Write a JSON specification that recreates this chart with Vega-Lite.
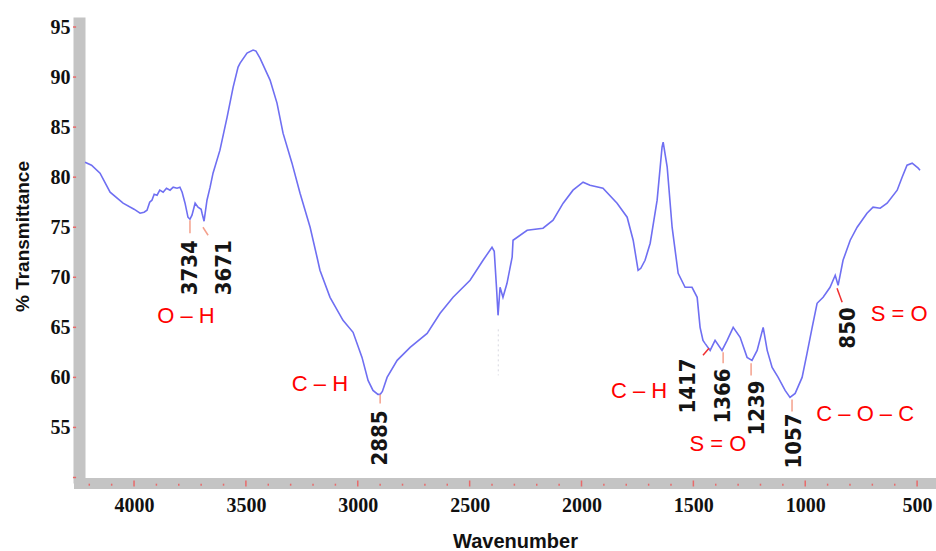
{
  "$schema": "https://vega.github.io/schema/vega-lite/v6.json",
  "width": 856,
  "height": 466,
  "autosize": {"type": "none"},
  "padding": {"left": 79, "top": 17, "right": 1, "bottom": 68},
  "background": "white",
  "config": {"view": {"stroke": null}},
  "datasets": {
    "spectrum": [
      {"wn": 4219, "T": 81.5}, {"wn": 4190, "T": 81.2}, {"wn": 4152, "T": 80.4}, {"wn": 4107, "T": 78.5},
      {"wn": 4049, "T": 77.4}, {"wn": 4000, "T": 76.8}, {"wn": 3973, "T": 76.4}, {"wn": 3955, "T": 76.5},
      {"wn": 3942, "T": 76.7}, {"wn": 3930, "T": 77.5}, {"wn": 3920, "T": 77.7}, {"wn": 3910, "T": 78.3},
      {"wn": 3897, "T": 78.2}, {"wn": 3885, "T": 78.7}, {"wn": 3870, "T": 78.5}, {"wn": 3855, "T": 78.9},
      {"wn": 3839, "T": 78.7}, {"wn": 3825, "T": 79.0}, {"wn": 3808, "T": 78.9}, {"wn": 3795, "T": 79.0},
      {"wn": 3785, "T": 78.5}, {"wn": 3772, "T": 77.4}, {"wn": 3759, "T": 76.0}, {"wn": 3750, "T": 75.8},
      {"wn": 3741, "T": 76.2}, {"wn": 3727, "T": 77.4}, {"wn": 3714, "T": 77.0}, {"wn": 3700, "T": 76.8},
      {"wn": 3696, "T": 76.4}, {"wn": 3687, "T": 75.6}, {"wn": 3674, "T": 77.7}, {"wn": 3660, "T": 79.0},
      {"wn": 3647, "T": 80.4}, {"wn": 3616, "T": 82.7}, {"wn": 3584, "T": 86.0}, {"wn": 3557, "T": 89.0},
      {"wn": 3535, "T": 91.0}, {"wn": 3526, "T": 91.4}, {"wn": 3495, "T": 92.4}, {"wn": 3468, "T": 92.7},
      {"wn": 3455, "T": 92.6}, {"wn": 3437, "T": 91.9}, {"wn": 3392, "T": 89.7}, {"wn": 3361, "T": 87.4},
      {"wn": 3334, "T": 84.4}, {"wn": 3294, "T": 81.4}, {"wn": 3258, "T": 78.4}, {"wn": 3213, "T": 75.0},
      {"wn": 3182, "T": 72.0}, {"wn": 3169, "T": 70.7}, {"wn": 3124, "T": 68.0}, {"wn": 3066, "T": 65.7},
      {"wn": 3021, "T": 64.5}, {"wn": 2981, "T": 62.0}, {"wn": 2954, "T": 59.7}, {"wn": 2932, "T": 58.7},
      {"wn": 2910, "T": 58.3}, {"wn": 2900, "T": 58.3}, {"wn": 2890, "T": 58.6}, {"wn": 2869, "T": 60.0},
      {"wn": 2824, "T": 61.7}, {"wn": 2766, "T": 63.0}, {"wn": 2690, "T": 64.4}, {"wn": 2632, "T": 66.4},
      {"wn": 2574, "T": 68.0}, {"wn": 2498, "T": 69.7}, {"wn": 2440, "T": 71.7}, {"wn": 2400, "T": 73.0},
      {"wn": 2390, "T": 72.6}, {"wn": 2380, "T": 69.0}, {"wn": 2373, "T": 66.2}, {"wn": 2364, "T": 69.0},
      {"wn": 2351, "T": 68.0}, {"wn": 2333, "T": 69.4}, {"wn": 2310, "T": 72.0}, {"wn": 2306, "T": 73.7},
      {"wn": 2243, "T": 74.7}, {"wn": 2172, "T": 74.9}, {"wn": 2127, "T": 75.7}, {"wn": 2082, "T": 77.4},
      {"wn": 2038, "T": 78.7}, {"wn": 1993, "T": 79.5}, {"wn": 1962, "T": 79.2}, {"wn": 1904, "T": 78.9},
      {"wn": 1841, "T": 77.4}, {"wn": 1796, "T": 76.0}, {"wn": 1769, "T": 73.7}, {"wn": 1747, "T": 70.7},
      {"wn": 1735, "T": 70.9}, {"wn": 1716, "T": 71.7}, {"wn": 1693, "T": 73.4}, {"wn": 1662, "T": 77.7},
      {"wn": 1640, "T": 83.0}, {"wn": 1635, "T": 83.5}, {"wn": 1617, "T": 81.0}, {"wn": 1595, "T": 75.0},
      {"wn": 1568, "T": 70.4}, {"wn": 1537, "T": 69.0}, {"wn": 1506, "T": 69.0}, {"wn": 1483, "T": 68.0},
      {"wn": 1470, "T": 65.0}, {"wn": 1457, "T": 63.7}, {"wn": 1448, "T": 63.4}, {"wn": 1425, "T": 62.7},
      {"wn": 1403, "T": 63.7}, {"wn": 1372, "T": 62.7}, {"wn": 1349, "T": 63.7}, {"wn": 1322, "T": 65.0},
      {"wn": 1291, "T": 64.0}, {"wn": 1260, "T": 62.0}, {"wn": 1238, "T": 61.7}, {"wn": 1215, "T": 62.7},
      {"wn": 1188, "T": 65.0}, {"wn": 1170, "T": 62.7}, {"wn": 1148, "T": 61.0}, {"wn": 1121, "T": 60.0},
      {"wn": 1090, "T": 58.7}, {"wn": 1068, "T": 58.0}, {"wn": 1045, "T": 58.4}, {"wn": 1014, "T": 60.0},
      {"wn": 992, "T": 62.4}, {"wn": 969, "T": 65.0}, {"wn": 947, "T": 67.4}, {"wn": 920, "T": 68.0},
      {"wn": 889, "T": 69.0}, {"wn": 866, "T": 70.2}, {"wn": 853, "T": 69.2}, {"wn": 831, "T": 71.7},
      {"wn": 799, "T": 73.7}, {"wn": 768, "T": 75.0}, {"wn": 724, "T": 76.4}, {"wn": 697, "T": 77.0},
      {"wn": 665, "T": 76.9}, {"wn": 634, "T": 77.4}, {"wn": 589, "T": 78.7}, {"wn": 567, "T": 80.0},
      {"wn": 545, "T": 81.2}, {"wn": 522, "T": 81.4}, {"wn": 495, "T": 80.9}, {"wn": 487, "T": 80.7}
    ],
    "markers": [
      {"wn": 3750, "T": 75.7, "wn2": 3750, "T2": 74.4, "kind": "salmon"},
      {"wn": 3692, "T": 75.0, "wn2": 3669, "T2": 74.2, "kind": "salmon"},
      {"wn": 2900, "T": 58.3, "wn2": 2900, "T2": 57.4, "kind": "salmon"},
      {"wn": 1457, "T": 62.2, "wn2": 1430, "T2": 62.9, "kind": "red"},
      {"wn": 1367, "T": 62.5, "wn2": 1367, "T2": 61.4, "kind": "salmon"},
      {"wn": 1242, "T": 61.4, "wn2": 1242, "T2": 60.2, "kind": "salmon"},
      {"wn": 1059, "T": 57.8, "wn2": 1059, "T2": 56.6, "kind": "salmon"},
      {"wn": 858, "T": 68.9, "wn2": 835, "T2": 67.5, "kind": "red"}
    ],
    "peaks": [
      {"wn": 3750, "T": 73.7, "label": "3734"},
      {"wn": 3600, "T": 73.7, "label": "3671"},
      {"wn": 2900, "T": 56.7, "label": "2885"},
      {"wn": 1524, "T": 61.9, "label": "1417"},
      {"wn": 1367, "T": 60.9, "label": "1366"},
      {"wn": 1215, "T": 59.7, "label": "1239"},
      {"wn": 1050, "T": 56.4, "label": "1057"},
      {"wn": 808, "T": 67.0, "label": "850"}
    ],
    "groups": [
      {"wn": 3768, "T": 66.1, "label": "O – H"},
      {"wn": 3169, "T": 59.3, "label": "C – H"},
      {"wn": 580, "T": 66.3, "label": "S = O"},
      {"wn": 1743, "T": 58.6, "label": "C – H"},
      {"wn": 1390, "T": 53.3, "label": "S = O"},
      {"wn": 732, "T": 56.3, "label": "C – O – C"}
    ],
    "minorX": [
      {"wn": 4200}, {"wn": 4100}, {"wn": 3900}, {"wn": 3800}, {"wn": 3700}, {"wn": 3600},
      {"wn": 3400}, {"wn": 3300}, {"wn": 3200}, {"wn": 3100}, {"wn": 2900}, {"wn": 2800},
      {"wn": 2700}, {"wn": 2600}, {"wn": 2400}, {"wn": 2300}, {"wn": 2200}, {"wn": 2100},
      {"wn": 1900}, {"wn": 1800}, {"wn": 1700}, {"wn": 1600}, {"wn": 1400}, {"wn": 1300},
      {"wn": 1200}, {"wn": 1100}, {"wn": 900}, {"wn": 800}, {"wn": 700}, {"wn": 600}
    ],
    "majorX": [
      {"wn": 4000}, {"wn": 3500}, {"wn": 3000}, {"wn": 2500}, {"wn": 2000}, {"wn": 1500}, {"wn": 1000}, {"wn": 500}
    ],
    "yTicks": [
      {"T": 50}, {"T": 55}, {"T": 60}, {"T": 65}, {"T": 70}, {"T": 75}, {"T": 80}, {"T": 85}, {"T": 90}, {"T": 95}
    ],
    "gap": [
      {"wn": 2372, "T": 64.8, "T2": 60.2}
    ]
  },
  "layer": [
    {
      "data": {"name": "spectrum"},
      "mark": {"type": "line", "color": "#6f6ff2", "strokeWidth": 1.6, "clip": true},
      "encoding": {
        "x": {
          "field": "wn", "type": "quantitative",
          "scale": {"domain": [420, 4246], "reverse": true, "nice": false, "zero": false},
          "axis": {
            "values": [500, 1000, 1500, 2000, 2500, 3000, 3500, 4000],
            "format": "d",
            "grid": false, "ticks": false,
            "domainColor": "#c4c4c4", "domainWidth": 11, "domainCap": "square",
            "labelFont": "Liberation Serif", "labelFontWeight": "bold", "labelFontSize": 20, "labelColor": "#111111",
            "labelPadding": 12, "labelOverlap": false, "labelFlush": false,
            "title": "Wavenumber",
            "titleFont": "Liberation Sans", "titleFontWeight": "bold", "titleFontSize": 20, "titleColor": "#111111",
            "titleX": 436, "titleY": 58, "titleBaseline": "middle", "titleAnchor": "middle", "titleAlign": "center"
          }
        },
        "y": {
          "field": "T", "type": "quantitative",
          "scale": {"domain": [49.45, 96], "nice": false, "zero": false},
          "axis": {
            "values": [55, 60, 65, 70, 75, 80, 85, 90, 95],
            "format": "d",
            "grid": false, "ticks": false,
            "domainColor": "#c4c4c4", "domainWidth": 12,
            "labelFont": "Liberation Serif", "labelFontWeight": "bold", "labelFontSize": 20, "labelColor": "#111111",
            "labelPadding": 9,
            "title": "% Transmittance",
            "titleFont": "Liberation Sans", "titleFontWeight": "bold", "titleFontSize": 19, "titleColor": "#111111",
            "titleX": -57, "titleY": 219, "titleAngle": 270, "titleBaseline": "middle", "titleAlign": "center"
          }
        }
      }
    },
    {
      "data": {"name": "minorX"},
      "mark": {"type": "rule", "color": "#e86a6a", "strokeWidth": 1.5, "clip": false},
      "encoding": {
        "x": {"field": "wn", "type": "quantitative"},
        "y": {"datum": 49.38},
        "y2": {"datum": 49.18}
      }
    },
    {
      "data": {"name": "majorX"},
      "mark": {"type": "rule", "color": "#e86a6a", "strokeWidth": 1.5, "clip": false},
      "encoding": {
        "x": {"field": "wn", "type": "quantitative"},
        "y": {"datum": 49.7},
        "y2": {"datum": 49.1}
      }
    },
    {
      "data": {"name": "yTicks"},
      "mark": {"type": "rule", "color": "#e86a6a", "strokeWidth": 1.5, "clip": false},
      "encoding": {
        "y": {"field": "T", "type": "quantitative"},
        "x": {"datum": 4273},
        "x2": {"datum": 4259}
      }
    },
    {
      "data": {"name": "gap"},
      "mark": {"type": "rule", "color": "#d8d8e0", "strokeWidth": 1, "strokeDash": [2, 3]},
      "encoding": {
        "x": {"field": "wn", "type": "quantitative"},
        "y": {"field": "T", "type": "quantitative"},
        "y2": {"field": "T2"}
      }
    },
    {
      "data": {"name": "markers"},
      "mark": {"type": "rule", "strokeWidth": 1.5},
      "encoding": {
        "x": {"field": "wn", "type": "quantitative"},
        "y": {"field": "T", "type": "quantitative"},
        "x2": {"field": "wn2"},
        "y2": {"field": "T2"},
        "color": {"field": "kind", "type": "nominal", "scale": {"domain": ["salmon", "red"], "range": ["#f4a08c", "#f03030"]}, "legend": null}
      }
    },
    {
      "data": {"name": "peaks"},
      "mark": {"type": "text", "angle": 270, "align": "right", "baseline": "middle", "font": "'Liberation Sans Narrow', 'DejaVu Sans Condensed', 'Arial Narrow', 'Liberation Sans', sans-serif", "fontWeight": "bold", "fontSize": 22, "color": "#151515"},
      "encoding": {
        "x": {"field": "wn", "type": "quantitative"},
        "y": {"field": "T", "type": "quantitative"},
        "text": {"field": "label"}
      }
    },
    {
      "data": {"name": "groups"},
      "mark": {"type": "text", "align": "center", "baseline": "middle", "font": "Liberation Sans", "fontSize": 22, "color": "#ff0000"},
      "encoding": {
        "x": {"field": "wn", "type": "quantitative"},
        "y": {"field": "T", "type": "quantitative"},
        "text": {"field": "label"}
      }
    }
  ]
}
